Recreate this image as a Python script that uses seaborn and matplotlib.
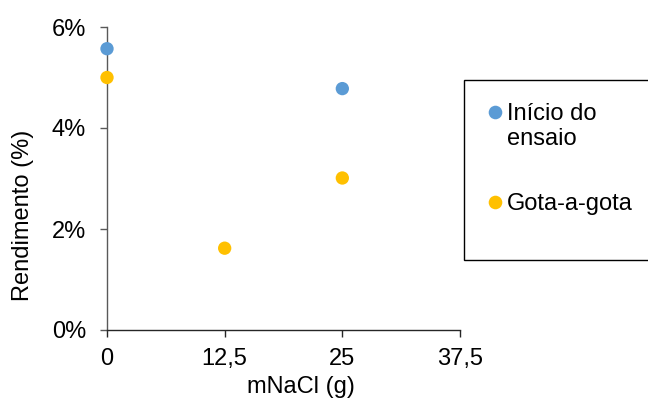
import matplotlib
matplotlib.use("Agg")
import matplotlib.pyplot as plt
import seaborn as sns
import pandas as pd
from matplotlib.lines import Line2D
from matplotlib.patches import Rectangle
from matplotlib.ticker import FuncFormatter

series_names = ["Início do ensaio", "Gota-a-gota"]
legend_labels = ["Início do\nensaio", "Gota-a-gota"]
x_inicio = [0, 25]
y_inicio = [5.57, 4.78]
x_gota = [0, 12.5, 25]
y_gota = [5.0, 1.62, 3.01]
x_ticks = [0, 12.5, 25, 37.5]
y_ticks = [0, 2, 4, 6]
colors = ["#5B9BD5", "#FFC000"]

df = pd.DataFrame({
    "x": x_inicio + x_gota,
    "y": y_inicio + y_gota,
    "serie": [series_names[0]] * len(x_inicio) + [series_names[1]] * len(x_gota),
})

sns.set_style("white")
plt.rcParams["font.family"] = ["Liberation Sans", "DejaVu Sans"]
FS = 17

fig = plt.figure(figsize=(6.48, 4.03), dpi=100)
ax = fig.add_axes([107 / 648, 1 - 330 / 403, (460 - 107) / 648, (330 - 27) / 403])

sns.scatterplot(data=df, x="x", y="y", hue="serie", palette=colors,
                hue_order=series_names, s=92, edgecolor="none", legend=False,
                ax=ax, clip_on=False, zorder=5)

ax.set_xlim(0, 37.5)
ax.set_ylim(0, 6)
ax.set_xticks(x_ticks)
ax.set_yticks(y_ticks)
ax.xaxis.set_major_formatter(FuncFormatter(lambda v, p: (f"{v:g}").replace(".", ",")))
ax.yaxis.set_major_formatter(FuncFormatter(lambda v, p: f"{v:g}%"))

for s in ["top", "right"]:
    ax.spines[s].set_visible(False)
ax.spines["left"].set_color("#595959")
ax.spines["bottom"].set_color("#262626")
ax.spines["left"].set_linewidth(1.0)
ax.spines["bottom"].set_linewidth(1.0)

ax.tick_params(axis="y", which="major", direction="out", length=5, width=1.0,
               color="#595959", pad=10, labelsize=FS, labelcolor="black", left=True)
ax.tick_params(axis="x", which="major", direction="out", length=5, width=1.0,
               color="#262626", pad=8, labelsize=FS, labelcolor="black", bottom=True)
ax.set_xlabel("mNaCl (g)", fontsize=FS, labelpad=4, color="black")
ax.set_ylabel("Rendimento (%)", fontsize=FS, labelpad=13, color="black")
ax.xaxis.label.set_x((301 - 107) / 353)
ax.yaxis.label.set_y((330 - 215) / 303)

# legend box (manual)
fig.patches.append(Rectangle((464 / 648, 1 - 260 / 403), 0.5, (260 - 80) / 403,
                             transform=fig.transFigure, facecolor="white",
                             edgecolor="black", linewidth=1.0, clip_on=False))
entries = [(112, 103), (202, 193)]
for (my, ty), lab, c in zip(entries, legend_labels, colors):
    fig.add_artist(Line2D([495 / 648], [1 - my / 403], marker="o", markersize=9.8,
                          markerfacecolor=c, markeredgecolor="none", linestyle="none",
                          transform=fig.transFigure))
    fig.text(507 / 648, 1 - ty / 403, lab, fontsize=FS, va="top", ha="left",
             linespacing=1.15, color="black", transform=fig.transFigure)

fig.savefig("out.png", dpi=100)
